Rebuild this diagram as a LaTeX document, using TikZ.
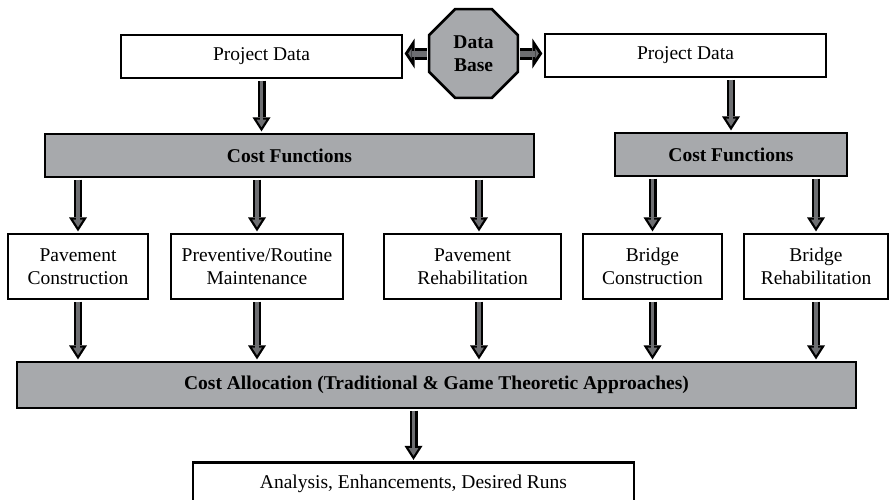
\documentclass[tikz,border=0pt]{standalone}
\usepackage{fontspec}
\setmainfont{Liberation Serif}
\usetikzlibrary{arrows.meta,shapes.geometric}
\definecolor{boxgray}{HTML}{A7A9AC}
\definecolor{arrgray}{HTML}{6D6E71}
\tikzset{
  box/.style={draw=black, line width=2.6pt, fill=white, inner sep=0pt, align=center,
    font=\fontsize{19.5}{23}\selectfont},
  graybox/.style={box, fill=boxgray, font=\fontsize{19.5}{23}\selectfont\bfseries},
  fat/.style={draw=black, line width=8pt, shorten <=1.3pt, shorten >=1.3pt,
    -{Triangle[length=14pt,width=18pt,line width=0pt]},
    postaction={draw=arrgray, line width=3.5pt, shorten <=1.3pt, shorten >=5.5pt,
      -{Triangle[length=7.6pt,width=9.8pt,line width=0pt]}}},
  fath/.style={draw=black, line width=12pt, shorten <=1.3pt, shorten >=1.3pt,
    -{Triangle[length=10pt,width=30pt,line width=0pt]},
    postaction={draw=arrgray, line width=6pt, shorten <=1.3pt, shorten >=4.9pt,
      -{Triangle[length=3.4pt,width=10.2pt,line width=0pt]}}}
}
\begin{document}
\begin{tikzpicture}[x=1pt,y=-1pt]
\useasboundingbox (0,0) rectangle (889,499);
\clip (0,0) rectangle (889,499);
% top row
\node[box, minimum width=281pt, minimum height=43pt] (pd1) at (261.5,56.5) {Project Data};
\node[box, minimum width=281pt, minimum height=43pt] (pd2) at (685.5,55.5) {Project Data};
\node[regular polygon, regular polygon sides=8, minimum size=96pt, draw=black, line width=2.6pt,
  fill=boxgray, inner sep=0pt, align=center, font=\fontsize{19.5}{23}\selectfont\bfseries] (db) at (473.5,53.5) {Data\\Base};
% cost functions
\node[graybox, minimum width=489pt, minimum height=43pt] (cf1) at (289.5,155.5) {Cost Functions};
\node[graybox, minimum width=232pt, minimum height=43pt] (cf2) at (731,154.5) {Cost Functions};
% level 2
\node[box, minimum width=140pt, minimum height=65pt] (b1) at (78,266.5) {Pavement\\Construction};
\node[box, minimum width=172pt, minimum height=65pt] (b2) at (257,266.5) {Preventive/Routine\\Maintenance};
\node[box, minimum width=177pt, minimum height=65pt] (b3) at (472.5,266.5) {Pavement\\Rehabilitation};
\node[box, minimum width=139pt, minimum height=65pt] (b4) at (652.5,266.5) {Bridge\\Construction};
\node[box, minimum width=144pt, minimum height=65pt] (b5) at (816,266.5) {Bridge\\Rehabilitation};
% allocation
\node[graybox, minimum width=839pt, minimum height=46pt] (ca) at (436.5,385) {Cost Allocation (Traditional \& Game Theoretic Approaches)};
\node[box, minimum width=441pt, minimum height=43pt] (an) at (413.5,484) {Analysis, Enhancements, Desired Runs};
% connectors
\draw[fath] (db.west) -- (db.west -| pd1.east);
\draw[fath] (db.east) -- (db.east -| pd2.west);
\draw[fat] (pd1.south) -- (pd1.south |- cf1.north);
\draw[fat] (cf2.north |- pd2.south) -- (cf2.north);
\draw[fat] (b1.north |- cf1.south) -- (b1.north);
\draw[fat] (b2.north |- cf1.south) -- (b2.north);
\draw[fat] ([xshift=6.5pt]b3.north |- cf1.south) -- ([xshift=6.5pt]b3.north);
\draw[fat] (b4.north |- cf2.south) -- (b4.north);
\draw[fat] (b5.north |- cf2.south) -- (b5.north);
\draw[fat] (b1.south) -- (b1.south |- ca.north);
\draw[fat] (b2.south) -- (b2.south |- ca.north);
\draw[fat] ([xshift=6.5pt]b3.south) -- ([xshift=6.5pt]b3.south |- ca.north);
\draw[fat] (b4.south) -- (b4.south |- ca.north);
\draw[fat] (b5.south) -- (b5.south |- ca.north);
\draw[fat] (an.north |- ca.south) -- (an.north);
\end{tikzpicture}
\end{document}
